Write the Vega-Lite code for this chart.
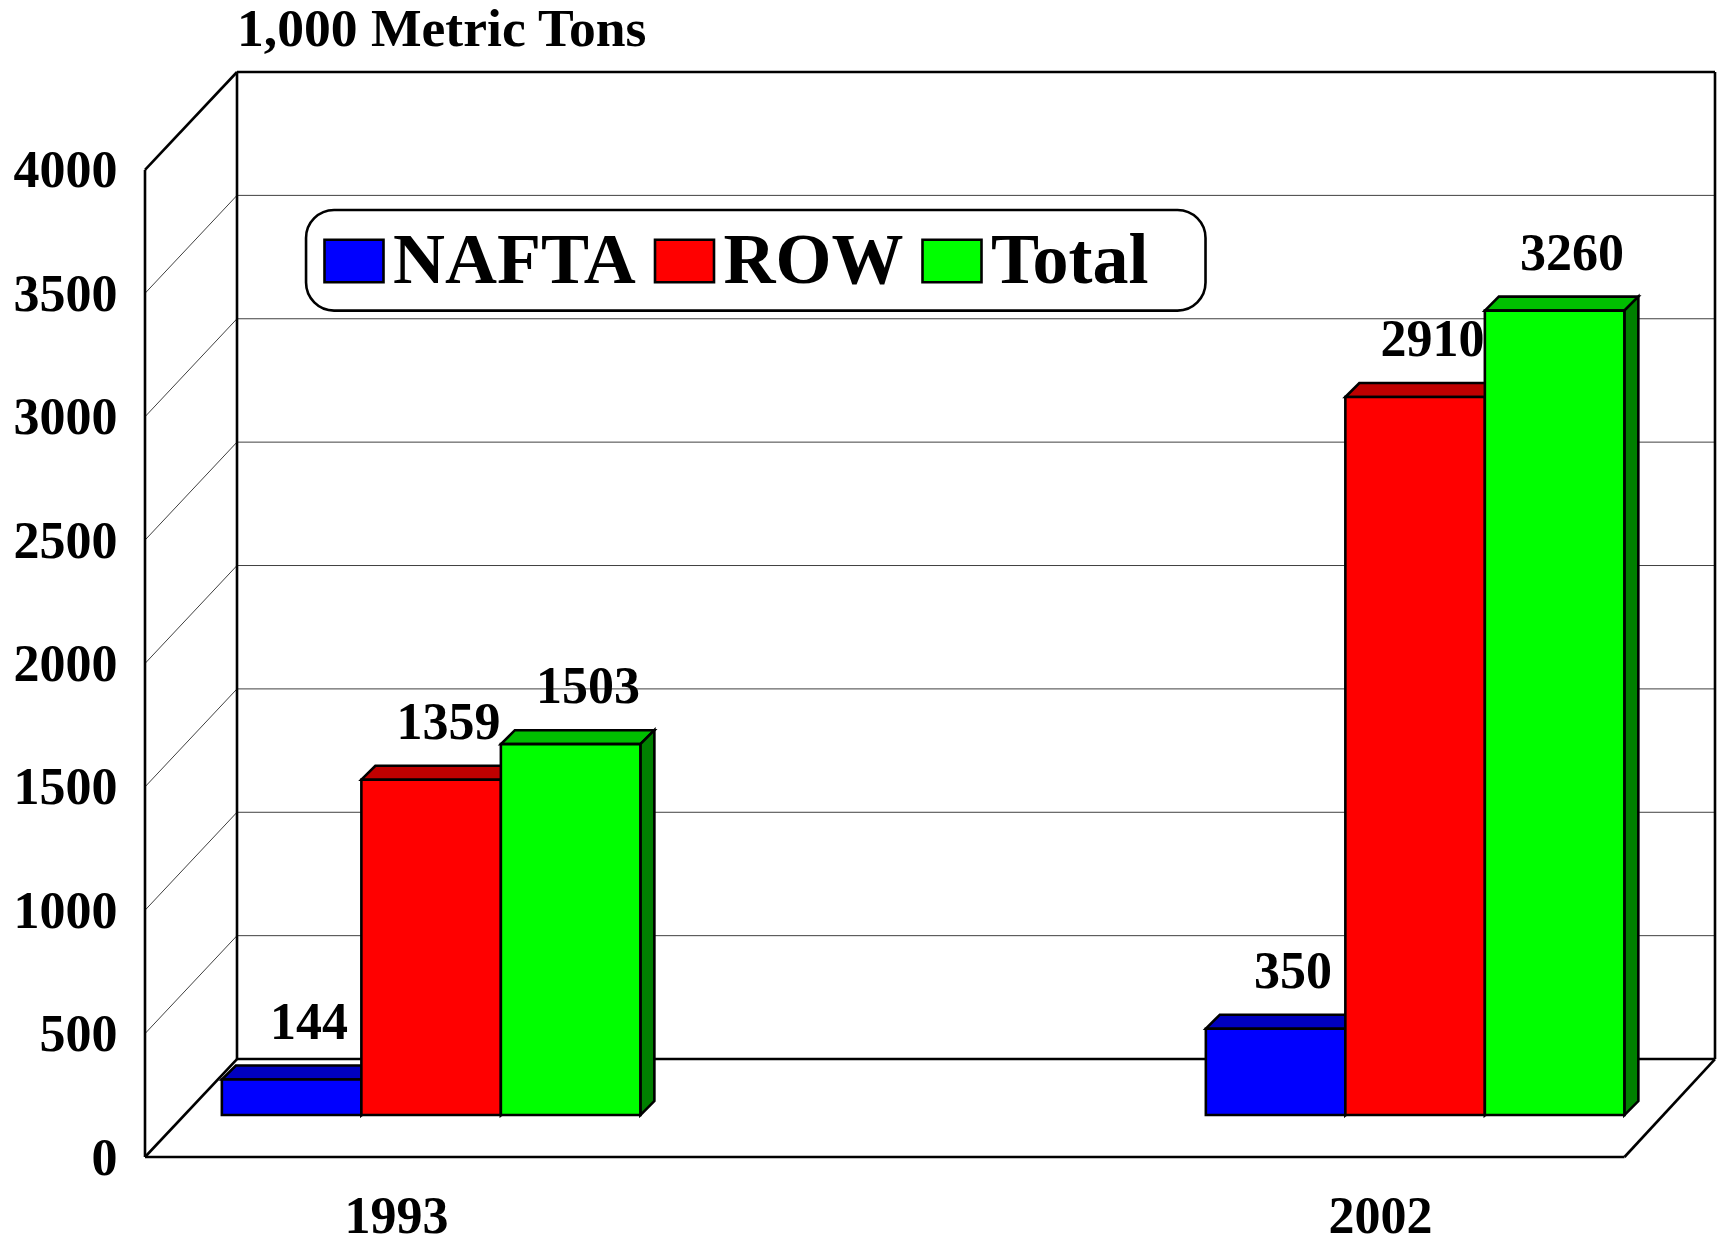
{
  "$schema": "https://vega.github.io/schema/vega-lite/v6.json",
  "autosize": {"type": "none"},
  "padding": {"left": 145, "top": 72, "right": 6, "bottom": 79},
  "width": 1570,
  "height": 1085,
  "background": "white",
  "view": {"stroke": null},
  "title": {"text": "1,000 Metric Tons", "anchor": "start", "frame": "group", "font": "Liberation Serif", "fontSize": 53.6, "fontWeight": "bold", "color": "black", "baseline": "alphabetic", "offset": -28.6, "dx": 92},
  "datasets": {
    "bars": [
      {"year": 1993, "series": "NAFTA", "value": 144},
      {"year": 1993, "series": "ROW", "value": 1359},
      {"year": 1993, "series": "Total", "value": 1503},
      {"year": 2002, "series": "NAFTA", "value": 350},
      {"year": 2002, "series": "ROW", "value": 2910},
      {"year": 2002, "series": "Total", "value": 3260}
    ],
    "ticks": [{"v": 500}, {"v": 1000}, {"v": 1500}, {"v": 2000}, {"v": 2500}, {"v": 3000}, {"v": 3500}],
    "edges": [
      {"edge": "frontLeft"}, {"edge": "backLeft"}, {"edge": "backRight"}, {"edge": "frontBottom"}, {"edge": "floorRight"},
      {"edge": "backTop"}, {"edge": "backFloor"}, {"edge": "topDiag"}, {"edge": "floorDiag"}
    ]
  },
  "data": {"name": "bars"},
  "encoding": {
    "x": {"field": "x", "type": "quantitative", "scale": {"domain": [1990.704, 2005.064], "nice": false, "zero": false},
      "axis": {"title": null, "values": [1993, 2002], "format": "d", "grid": false, "domain": false, "ticks": false, "tickSize": 0, "labelPadding": 75, "labelBaseline": "alphabetic", "labelFont": "Liberation Serif", "labelFontSize": 52, "labelFontWeight": "bold", "labelColor": "black", "labelFlush": false, "labelOverlap": false}},
    "y": {"field": "y", "type": "quantitative", "scale": {"domain": [0, 4397], "nice": false, "zero": false},
      "axis": {"title": null, "values": [0, 500, 1000, 1500, 2000, 2500, 3000, 3500, 4000], "grid": false, "domain": false, "ticks": false, "tickSize": 0, "labelPadding": 28, "labelOffset": 1, "labelFont": "Liberation Serif", "labelFontSize": 52, "labelFontWeight": "bold", "labelColor": "black", "labelOverlap": false, "format": "d"}}
  },
  "layer": [
    {
      "data": {"name": "ticks"},
      "transform": [
        {"calculate": "1991.5455", "as": "x"},
        {"calculate": "2005.064", "as": "x2"},
        {"calculate": "datum.v + 397", "as": "y"},
        {"calculate": "datum.v + 397", "as": "y2"}
      ],
      "mark": {"type": "rule", "stroke": "#404040", "strokeWidth": 1},
      "encoding": {"x2": {"field": "x2"}, "y2": {"field": "y2"}}
    },
    {
      "data": {"name": "ticks"},
      "transform": [
        {"calculate": "1990.704", "as": "x"},
        {"calculate": "1991.5455", "as": "x2"},
        {"calculate": "datum.v", "as": "y"},
        {"calculate": "datum.v + 397", "as": "y2"}
      ],
      "mark": {"type": "rule", "stroke": "#404040", "strokeWidth": 1},
      "encoding": {"x2": {"field": "x2"}, "y2": {"field": "y2"}}
    },
    {
      "data": {"name": "edges"},
      "transform": [
        {"calculate": "{'frontLeft':1990.704,'backLeft':1991.5455,'backRight':2005.064,'frontBottom':1990.704,'floorRight':2004.236,'backTop':1991.5455,'backFloor':1991.5455,'topDiag':1990.704,'floorDiag':1990.704}[datum.edge]", "as": "x"},
        {"calculate": "{'frontLeft':1990.704,'backLeft':1991.5455,'backRight':2005.064,'frontBottom':2004.236,'floorRight':2005.064,'backTop':2005.064,'backFloor':2005.064,'topDiag':1991.5455,'floorDiag':1991.5455}[datum.edge]", "as": "x2"},
        {"calculate": "{'frontLeft':0,'backLeft':397,'backRight':397,'frontBottom':0,'floorRight':0,'backTop':4397,'backFloor':397,'topDiag':4000,'floorDiag':0}[datum.edge]", "as": "y"},
        {"calculate": "{'frontLeft':4000,'backLeft':4397,'backRight':4397,'frontBottom':0,'floorRight':397,'backTop':4397,'backFloor':397,'topDiag':4397,'floorDiag':397}[datum.edge]", "as": "y2"}
      ],
      "mark": {"type": "rule", "stroke": "black", "strokeWidth": 2.6},
      "encoding": {"x2": {"field": "x2"}, "y2": {"field": "y2"}}
    },
    {
      "data": {"values": [{"box": "legend"}]},
      "transform": [
        {"calculate": "1992.177", "as": "x"},
        {"calculate": "2000.404", "as": "x2"},
        {"calculate": "3838", "as": "y"},
        {"calculate": "3430", "as": "y2"}
      ],
      "mark": {"type": "rect", "fill": "white", "stroke": "black", "strokeWidth": 2.6, "cornerRadius": 28},
      "encoding": {"x2": {"field": "x2"}, "y2": {"field": "y2"}}
    },
    {
      "transform": [
        {"calculate": "indexof(['NAFTA','ROW','Total'], datum.series)", "as": "i"},
        {"calculate": "datum.year + '-' + datum.series", "as": "bar"},
        {"calculate": "datum.year - 1.593 + 1.276 * datum.i", "as": "a"},
        {"calculate": "datum.a + 1.276", "as": "b"},
        {"calculate": "datum.value + 170", "as": "t"},
        {"calculate": "0", "as": "c0"},
        {"calculate": "1", "as": "c1"},
        {"calculate": "2", "as": "c2"},
        {"calculate": "3", "as": "c3"},
        {"fold": ["c0", "c1", "c2", "c3"], "as": ["corner", "k"]},
        {"calculate": "datum.k == 0 ? datum.a : datum.k == 1 ? datum.a + 0.128 : datum.k == 2 ? datum.b : datum.b + 0.128", "as": "x"},
        {"calculate": "datum.k == 0 ? datum.t : datum.t + 56.7", "as": "y"},
        {"calculate": "datum.k == 3 ? datum.t + 56.7 : datum.t", "as": "y2"}
      ],
      "mark": {"type": "area", "orient": "vertical", "stroke": "black", "strokeWidth": 2.6, "strokeJoin": "miter"},
      "encoding": {
        "y2": {"field": "y2"},
        "detail": {"field": "bar", "type": "nominal"},
        "fill": {"field": "series", "type": "nominal", "legend": null, "scale": {"domain": ["NAFTA", "ROW", "Total"], "range": ["#0000BF", "#BF0000", "#00BF00"]}}
      }
    },
    {
      "transform": [
        {"calculate": "indexof(['NAFTA','ROW','Total'], datum.series)", "as": "i"},
        {"calculate": "datum.year + '-' + datum.series", "as": "bar"},
        {"calculate": "datum.year - 1.593 + 1.276 * (datum.i + 1)", "as": "b"},
        {"calculate": "datum.value + 170", "as": "t"},
        {"calculate": "0", "as": "c0"},
        {"calculate": "1", "as": "c1"},
        {"fold": ["c0", "c1"], "as": ["corner", "k"]},
        {"calculate": "datum.b + 0.128 * datum.k", "as": "x"},
        {"calculate": "datum.t + 56.7 * datum.k", "as": "y"},
        {"calculate": "170 + 56.7 * datum.k", "as": "y2"}
      ],
      "mark": {"type": "area", "orient": "vertical", "stroke": "black", "strokeWidth": 2.6, "strokeJoin": "miter"},
      "encoding": {
        "y2": {"field": "y2"},
        "detail": {"field": "bar", "type": "nominal"},
        "fill": {"field": "series", "type": "nominal", "legend": null, "scale": {"domain": ["NAFTA", "ROW", "Total"], "range": ["#000080", "#800000", "#008000"]}}
      }
    },
    {
      "transform": [
        {"calculate": "indexof(['NAFTA','ROW','Total'], datum.series)", "as": "i"},
        {"calculate": "datum.year - 1.593 + 1.276 * (datum.i + 0.5)", "as": "x"},
        {"calculate": "datum.value + 170", "as": "y"}
      ],
      "mark": {"type": "text", "font": "Liberation Serif", "fontSize": 52, "fontWeight": "bold", "color": "black", "baseline": "alphabetic", "align": "center", "dx": 17.4, "dy": -41},
      "encoding": {"text": {"field": "value", "type": "quantitative", "format": "d"}}
    },
    {
      "transform": [
        {"calculate": "indexof(['NAFTA','ROW','Total'], datum.series)", "as": "i"},
        {"calculate": "datum.year - 1.593 + 1.276 * datum.i", "as": "x"},
        {"calculate": "datum.x + 1.276", "as": "x2"},
        {"calculate": "datum.value + 170", "as": "y"},
        {"calculate": "170", "as": "y2"}
      ],
      "mark": {"type": "rect", "stroke": "black", "strokeWidth": 2.6},
      "encoding": {
        "x2": {"field": "x2"},
        "y2": {"field": "y2"},
        "fill": {"field": "series", "type": "nominal", "scale": {"domain": ["NAFTA", "ROW", "Total"], "range": ["#0000FF", "#FF0000", "#00FF00"]},
          "legend": {"title": null, "orient": "none", "legendX": 173, "legendY": 153, "direction": "horizontal", "columns": 3, "columnPadding": 12.5, "labelOffset": 3, "labelLimit": 400, "labelFont": "Liberation Serif", "labelFontSize": 72, "labelFontWeight": "bold", "labelColor": "black", "symbolType": "M-1,-0.72H1V0.72H-1Z", "symbolSize": 3481, "symbolStrokeColor": "black", "symbolStrokeWidth": 2.6, "padding": 0}}
      }
    }
  ],
  "resolve": {"scale": {"fill": "independent"}}
}
